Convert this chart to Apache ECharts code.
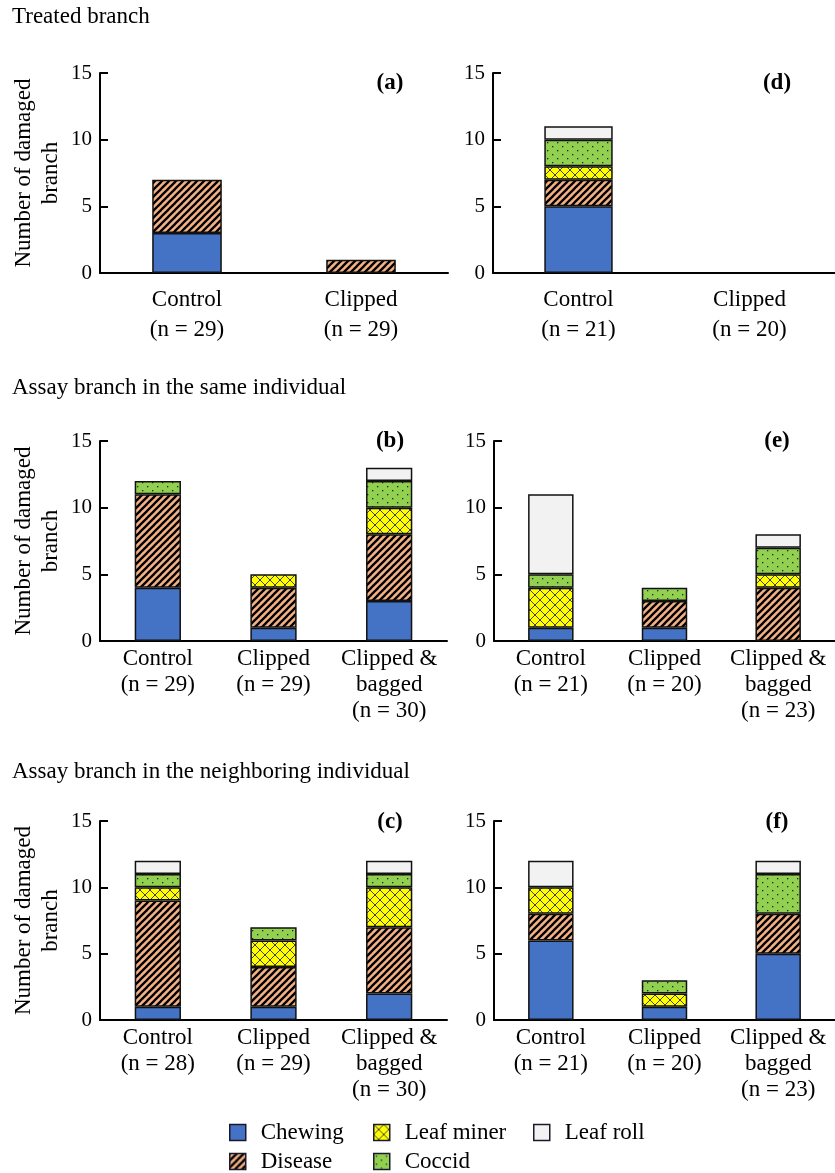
<!DOCTYPE html>
<html>
<head>
<meta charset="utf-8">
<script src="https://cdn.jsdelivr.net/npm/echarts@6/dist/echarts.min.js"></script>
<style>
  html, body { margin: 0; padding: 0; background: #fff; }
  #chart { width: 835px; height: 1173px; }
</style>
</head>
<body>
<div id="chart"></div>
<script>
  // damage types, in stacking order (bottom -> top)
  const types = ['Chewing', 'Disease', 'Leaf miner', 'Coccid', 'Leaf roll']

  // category labels per panel
  const catsA = ['Control\n(n = 29)', 'Clipped\n(n = 29)']
  const catsD = ['Control\n(n = 21)', 'Clipped\n(n = 20)']
  const catsB = ['Control\n(n = 29)', 'Clipped\n(n = 29)', 'Clipped &\nbagged\n(n = 30)']
  const catsE = ['Control\n(n = 21)', 'Clipped\n(n = 20)', 'Clipped &\nbagged\n(n = 23)']
  const catsC = ['Control\n(n = 28)', 'Clipped\n(n = 29)', 'Clipped &\nbagged\n(n = 30)']
  const catsF = ['Control\n(n = 21)', 'Clipped\n(n = 20)', 'Clipped &\nbagged\n(n = 23)']

  // values: one row per damage type (same order as types)
  const dataA = [[3, 0], [4, 1], [0, 0], [0, 0], [0, 0]]
  const dataD = [[5, 0], [2, 0], [1, 0], [2, 0], [1, 0]]
  const dataB = [[4, 1, 3], [7, 3, 5], [0, 1, 2], [1, 0, 2], [0, 0, 1]]
  const dataE = [[1, 1, 0], [0, 2, 4], [3, 0, 1], [1, 1, 2], [6, 0, 1]]
  const dataC = [[1, 1, 2], [8, 3, 5], [1, 2, 3], [1, 1, 1], [1, 0, 1]]
  const dataF = [[6, 1, 5], [2, 0, 3], [2, 1, 0], [0, 1, 3], [2, 0, 1]]

  const yTicks = [0, 5, 10, 15]

  const font = "'Liberation Serif', 'Times New Roman', serif"

  // pattern fills
  function makePattern (w, h, bg, draw) {
    const c = document.createElement('canvas')
    c.width = w
    c.height = h
    const ctx = c.getContext('2d')
    ctx.fillStyle = bg
    ctx.fillRect(0, 0, w, h)
    draw(ctx, w, h)
    return { image: c, repeat: 'repeat' }
  }
  const fills = [
    '#4472C4',
    makePattern(7, 7, '#F4B183', function (ctx, w, h) {
      ctx.strokeStyle = '#000'
      ctx.lineWidth = 2.3
      for (const k of [-w, 0, w]) {
        ctx.beginPath()
        ctx.moveTo(k - 1, h + 1)
        ctx.lineTo(k + w + 1, -1)
        ctx.stroke()
      }
    }),
    makePattern(10, 10, '#FFFF00', function (ctx, w, h) {
      ctx.strokeStyle = '#444'
      ctx.lineWidth = 1
      ctx.beginPath()
      ctx.moveTo(0, 0); ctx.lineTo(w, h)
      ctx.moveTo(0, h); ctx.lineTo(w, 0)
      ctx.stroke()
    }),
    makePattern(10, 8, '#92D050', function (ctx, w, h) {
      ctx.fillStyle = '#222'
      ctx.fillRect(2, 2, 1.3, 1.3)
      ctx.fillRect(7, 6, 1.3, 1.3)
    }),
    '#F2F2F2'
  ]

  // panels in order a, d, b, e, c, f
  const panels = [
    { cats: catsA, data: dataA, grid: { left: 100, top: 73, width: 348, height: 200 }, yName: true, top: true },
    { cats: catsD, data: dataD, grid: { left: 493, top: 73, width: 342, height: 200 }, yName: false, top: true },
    { cats: catsB, data: dataB, grid: { left: 100, top: 441, width: 347, height: 200 }, yName: true, top: false },
    { cats: catsE, data: dataE, grid: { left: 494, top: 441, width: 341, height: 200 }, yName: false, top: false },
    { cats: catsC, data: dataC, grid: { left: 100, top: 821, width: 347, height: 199 }, yName: true, top: false },
    { cats: catsF, data: dataF, grid: { left: 494, top: 821, width: 341, height: 199 }, yName: false, top: false }
  ]

  const tags = [
    { text: '(a)', x: 390, y: 83 },
    { text: '(d)', x: 777, y: 83 },
    { text: '(b)', x: 390, y: 441 },
    { text: '(e)', x: 777, y: 441 },
    { text: '(c)', x: 390, y: 822 },
    { text: '(f)', x: 777, y: 822 }
  ]
  const headers = [
    { text: 'Treated branch', y: 17 },
    { text: 'Assay branch in the same individual', y: 388 },
    { text: 'Assay branch in the neighboring individual', y: 772 }
  ]

  const grid = []
  const xAxis = []
  const yAxis = []
  const series = []

  panels.forEach(function (p, i) {
    grid.push(p.grid)
    xAxis.push({
      type: 'category',
      gridIndex: i,
      data: p.cats,
      axisLine: { lineStyle: { color: '#000', width: 2 } },
      axisTick: { show: false },
      axisLabel: {
        interval: 0,
        color: '#000',
        fontFamily: font,
        fontSize: 23,
        lineHeight: p.top ? 30 : 26,
        margin: p.top ? 12 : 5
      }
    })
    yAxis.push({
      type: 'value',
      gridIndex: i,
      min: yTicks[0],
      max: yTicks[yTicks.length - 1],
      interval: 5,
      name: p.yName ? 'Number of damaged\nbranch' : '',
      nameLocation: 'middle',
      nameGap: 36,
      nameTextStyle: { color: '#000', fontFamily: font, fontSize: 23, lineHeight: 27 },
      axisLine: { show: true, lineStyle: { color: '#000', width: 2 } },
      axisTick: { show: true, inside: true, length: 8, lineStyle: { color: '#000', width: 2 } },
      splitLine: { show: false },
      axisLabel: { color: '#000', fontFamily: font, fontSize: 21, margin: 8 }
    })
    types.forEach(function (t, k) {
      series.push({
        type: 'bar',
        name: t,
        xAxisIndex: i,
        yAxisIndex: i,
        stack: 'p' + i,
        barWidth: '40%',
        data: p.data[k].map(function (v) { return v === 0 ? null : v }),
        itemStyle: { color: fills[k], borderColor: '#111', borderWidth: 1.5 }
      })
    })
  })

  const graphic = []
  headers.forEach(function (h) {
    graphic.push({
      type: 'text', x: 12, y: h.y,
      style: { text: h.text, fill: '#000', font: '23px ' + font, verticalAlign: 'middle' }
    })
  })
  tags.forEach(function (t) {
    graphic.push({
      type: 'text', x: t.x, y: t.y,
      style: { text: t.text, fill: '#000', font: 'bold 23px ' + font, align: 'center', verticalAlign: 'middle' }
    })
  })

  function legendCol (names, left) {
    return {
      data: names,
      orient: 'vertical',
      left: left,
      top: 1121,
      height: 80,
      itemWidth: 16,
      itemHeight: 16,
      itemGap: 6,
      padding: 0,
      icon: 'rect',
      selectedMode: false,
      itemStyle: { borderColor: '#1a1a2e', borderWidth: 1.5 },
      textStyle: { color: '#000', fontFamily: font, fontSize: 23, lineHeight: 22, padding: [0, 0, 0, 10] }
    }
  }

  const chart = echarts.init(document.getElementById('chart'))
  chart.setOption({
    animation: false,
    backgroundColor: '#fff',
    grid: grid,
    xAxis: xAxis,
    yAxis: yAxis,
    legend: [
      legendCol(['Chewing', 'Disease'], 229),
      legendCol(['Leaf miner', 'Coccid'], 373),
      legendCol(['Leaf roll'], 533)
    ],
    graphic: graphic,
    series: series
  })
</script>
</body>
</html>
